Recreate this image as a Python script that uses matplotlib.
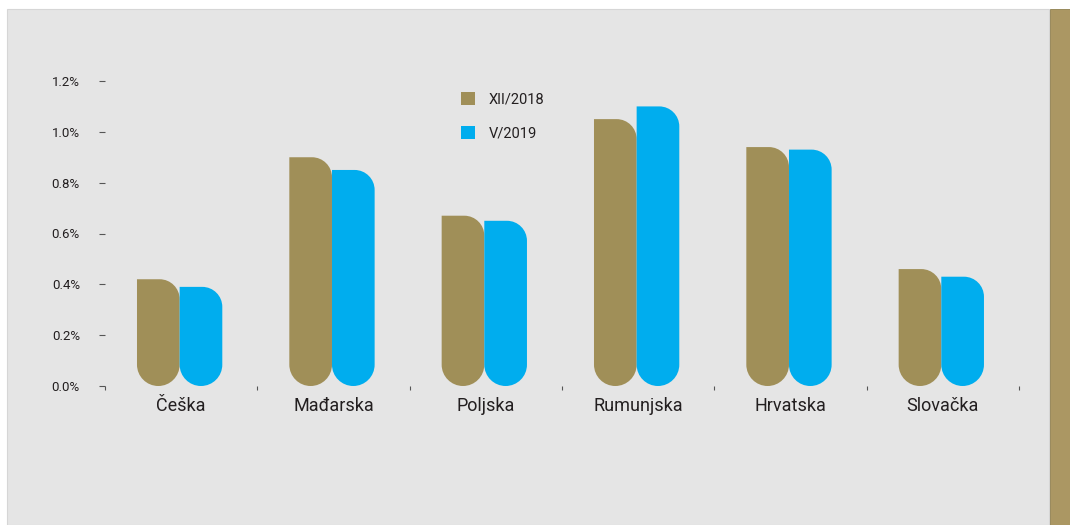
import numpy as np
import matplotlib
matplotlib.use("Agg")
import matplotlib.pyplot as plt
from matplotlib.path import Path
from matplotlib.patches import PathPatch, Rectangle, Patch

plt.rcParams['font.family'] = ['Roboto', 'DejaVu Sans']

# data
countries = ['Češka', 'Mađarska', 'Poljska', 'Rumunjska', 'Hrvatska', 'Slovačka']
xii_2018 = [0.42, 0.90, 0.67, 1.05, 0.94, 0.46]
v_2019 = [0.39, 0.85, 0.65, 1.10, 0.93, 0.43]
series_names = ['XII/2018', 'V/2019']
yticks = [0.0, 0.2, 0.4, 0.6, 0.8, 1.0, 1.2]

c_brown = '#a08f58'
c_blue = '#00adee'
c_text = '#231f20'

W, H = 1070, 525
fig = plt.figure(figsize=(W / 100, H / 100), dpi=100)
fig.patch.set_facecolor('white')

# grey panel and gold strip
fig.add_artist(Rectangle((7 / W, 0), (1049 - 7) / W, (H - 9) / H, transform=fig.transFigure,
                         facecolor='#e5e5e5', edgecolor='#d6d6d6', lw=0.8, zorder=0))
fig.add_artist(Rectangle((1050 / W, 0), 20 / W, (H - 9) / H, transform=fig.transFigure,
                         facecolor='#ab9763', edgecolor='#8f8050', lw=0.6, zorder=0))

ax = fig.add_axes([105 / W, (H - 386) / H, 914 / W, 305 / H])
ax.set_facecolor('none')
ax.set_xlim(-0.5, len(countries) - 0.5)
ax.set_ylim(0, 1.2)

for s in ax.spines.values():
    s.set_visible(False)

# pixel scale of the data units
p0 = ax.transData.transform((0, 0))
p1 = ax.transData.transform((1, 1))
ppx, ppy = p1[0] - p0[0], p1[1] - p0[1]

bw = 0.28
K = 0.5523


def rounded_bar(xc, h, w, color):
    x0, x1 = xc - w / 2, xc + w / 2
    r_top = 20.0
    rxt, ryt = r_top / ppx, r_top / ppy
    rxb = w / 2
    ryb = (w / 2 * ppx) / ppy
    mid = xc
    verts = [
        (x0, h),
        (x1 - rxt, h),
        (x1 - rxt * (1 - K), h), (x1, h - ryt * (1 - K)), (x1, h - ryt),
        (x1, ryb),
        (x1, ryb * (1 - K)), (x1 - rxb * (1 - K), 0), (mid, 0),
        (x0 + rxb * (1 - K), 0), (x0, ryb * (1 - K)), (x0, ryb),
        (x0, h),
        (x0, h),
    ]
    codes = [Path.MOVETO, Path.LINETO,
             Path.CURVE4, Path.CURVE4, Path.CURVE4,
             Path.LINETO,
             Path.CURVE4, Path.CURVE4, Path.CURVE4,
             Path.CURVE4, Path.CURVE4, Path.CURVE4,
             Path.LINETO, Path.CLOSEPOLY]
    ax.add_patch(PathPatch(Path(verts, codes), facecolor=color, edgecolor='none', zorder=2))


x = np.arange(len(countries))
for i in range(len(countries)):
    rounded_bar(x[i] - bw / 2 - 0.01, xii_2018[i], bw, c_brown)
    rounded_bar(x[i] + bw / 2 - 0.01, v_2019[i], bw, c_blue)

# y axis
ax.set_yticks(yticks)
ax.set_yticklabels([f'{v:.1f}%' for v in yticks], fontsize=9.5, color=c_text)
ax.tick_params(axis='y', length=4, width=0.8, color='#555555', pad=14, direction='out')

# x axis
ax.set_xticks(x)
ax.set_xticklabels(countries, fontsize=13, color=c_text)
ax.set_xticks(np.arange(-0.5, len(countries), 1), minor=True)
ax.tick_params(axis='x', which='major', length=0, pad=8)
ax.tick_params(axis='x', which='minor', length=3, width=0.8, color='#555555')

handles = [Patch(facecolor=c_brown, edgecolor='none'), Patch(facecolor=c_blue, edgecolor='none')]
ax.legend(handles, series_names, loc='upper left', bbox_to_anchor=(448 / W, (H - 79) / H),
          bbox_transform=fig.transFigure, frameon=False, handlelength=0.95, handleheight=1.0,
          handletextpad=0.95, labelspacing=1.35, fontsize=10.5, labelcolor=c_text)

fig.savefig('out.png', dpi=100, facecolor=fig.get_facecolor())
